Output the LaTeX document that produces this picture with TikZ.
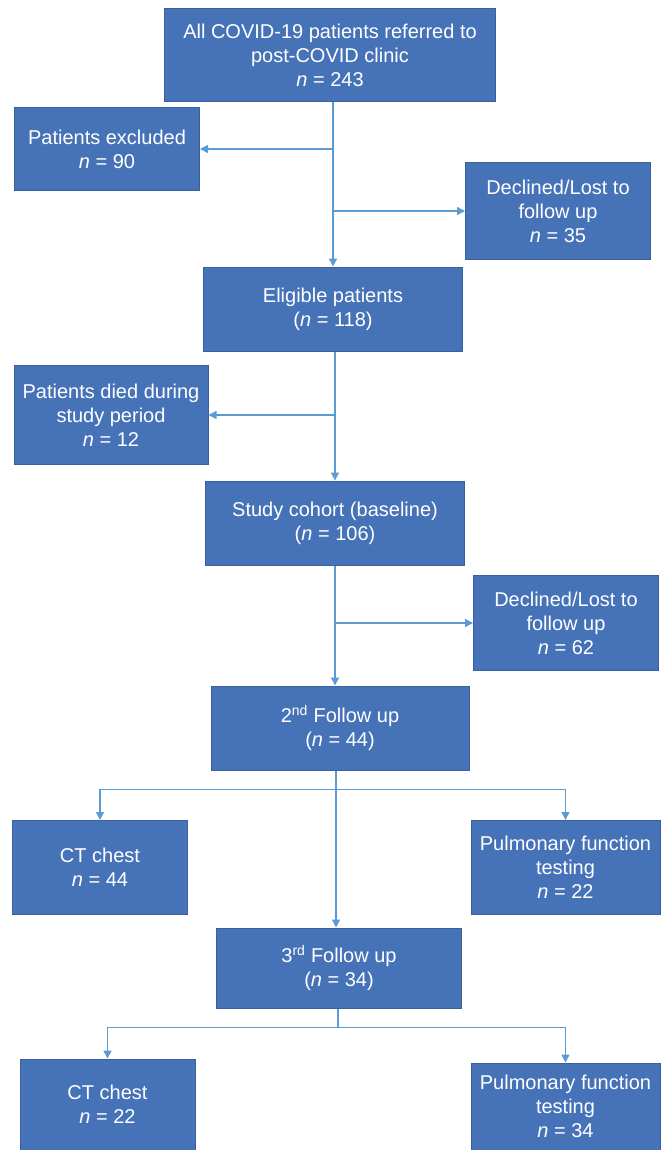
\documentclass[tikz,border=0pt]{standalone}
\usepackage{fontspec}
\setmainfont{Liberation Sans}
\usetikzlibrary{arrows.meta}
\definecolor{boxblue}{HTML}{4672B8}
\definecolor{boxedge}{HTML}{3A5F9F}
\definecolor{lineblue}{HTML}{5B9BD5}

\begin{document}
\begin{tikzpicture}[x=1pt,y=-1pt,
    box/.style={draw=boxedge,line width=1pt,fill=boxblue,text=white,align=center,
      inner sep=0pt,font=\fontsize{20}{24}\selectfont},
    line/.style={draw=lineblue,line width=1.4pt},
    arr/.style={line,-{Triangle[length=8pt,width=8pt]}}]
  \useasboundingbox (0,0) rectangle (661,1150);
  \node[box,minimum width=331pt,minimum height=93pt] (top) at (330,55)
    {All COVID-19 patients referred to\\post-COVID clinic\\\textit{n} = 243};
  \node[box,minimum width=185pt,minimum height=83pt] (excl) at (107,149)
    {Patients excluded\\\textit{n} = 90};
  \node[box,minimum width=185pt,minimum height=96pt] (declA) at (558,211)
    {Declined/Lost to\\follow up\\\textit{n} = 35};
  \node[box,minimum width=259pt,minimum height=84pt] (elig) at (333,309)
    {Eligible patients\\(\textit{n} = 118)};
  \node[box,minimum width=194pt,minimum height=99pt] (died) at (111,415)
    {Patients died during\\study period\\\textit{n} = 12};
  \node[box,minimum width=259pt,minimum height=84pt] (cohort) at (335,523)
    {Study cohort (baseline)\\(\textit{n} = 106)};
  \node[box,minimum width=185pt,minimum height=95pt] (declB) at (566,623)
    {Declined/Lost to\\follow up\\\textit{n} = 62};
  \node[box,minimum width=258pt,minimum height=84pt] (fuB) at (340,728)
    {2\textsuperscript{nd} Follow up\\(\textit{n} = 44)};
  \node[box,minimum width=175pt,minimum height=94pt] (ctB) at (100,867.5)
    {CT chest\\\textit{n} = 44};
  \node[box,minimum width=189pt,minimum height=94pt] (pftB) at (565.5,867.5)
    {Pulmonary function\\testing\\\textit{n} = 22};
  \node[box,minimum width=245pt,minimum height=80pt] (fuC) at (339,968)
    {3\textsuperscript{rd} Follow up\\(\textit{n} = 34)};
  \node[box,minimum width=175pt,minimum height=91pt] (ctC) at (107.5,1104.5)
    {CT chest\\\textit{n} = 22};
  \node[box,minimum width=189pt,minimum height=87pt] (pftC) at (565.5,1106.5)
    {Pulmonary function\\testing\\\textit{n} = 34};

  % trunk and side exits
  \draw[arr] (elig.north |- top.south) -- (elig.north);
  \draw[arr] (elig.north |- excl.east) -- (excl.east);
  \draw[arr] (elig.north |- declA.west) -- (declA.west);
  \draw[arr] (elig.south -| cohort.north) -- (cohort.north);
  \draw[arr] (cohort.north |- died.east) -- (died.east);
  \draw[arr] (cohort.south) -- (cohort.south |- fuB.north);
  \draw[arr] (cohort.south |- declB.west) -- (declB.west);

  % branches after follow ups
  \coordinate (splitB) at (336,789.5);
  \coordinate (splitC) at (338,1027.5);
  \draw[line] (fuB.south -| splitB) -- (splitB);
  \draw[arr] (splitB) -| (ctB.north);
  \draw[arr] (splitB) -| (pftB.north);
  \draw[arr] (splitB) -- (splitB |- fuC.north);
  \draw[line] (fuC.south -| splitC) -- (splitC);
  \draw[arr] (splitC) -| (ctC.north);
  \draw[arr] (splitC) -| (pftC.north);
\end{tikzpicture}
\end{document}
